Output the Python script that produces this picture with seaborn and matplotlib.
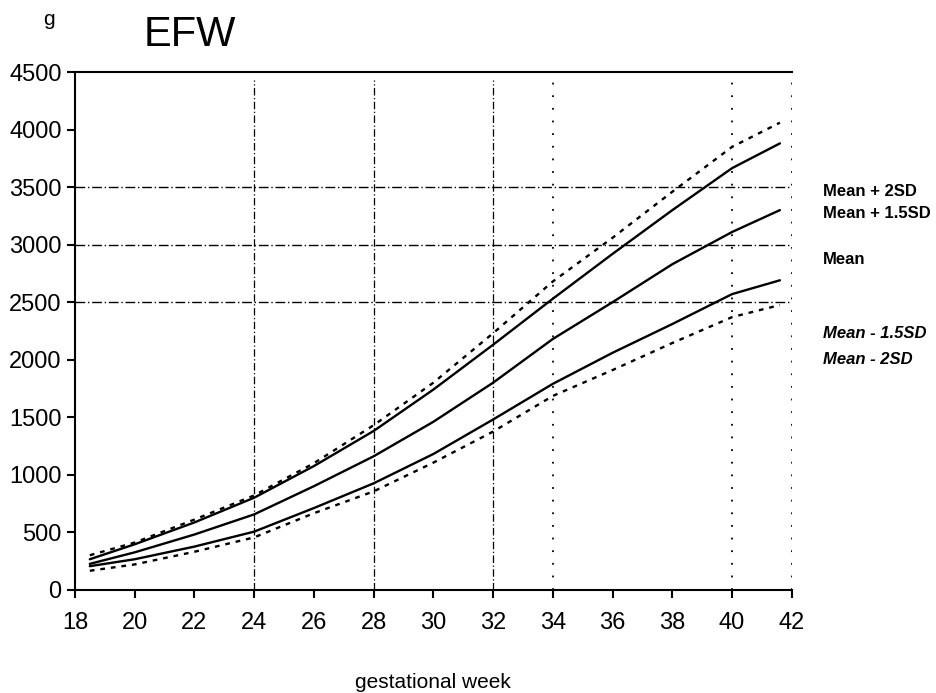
import pandas as pd
import numpy as np
import matplotlib
matplotlib.use("Agg")
import matplotlib.pyplot as plt
import seaborn as sns

# Values (grams)
weeks = [18.5, 20, 22, 24, 26, 28, 30, 32, 34, 36, 38, 40, 41.6]
plus_2sd = [300, 410, 610, 820, 1100, 1430, 1800, 2230, 2680, 3060, 3460, 3850, 4060]
plus_15sd = [265, 395, 585, 800, 1075, 1380, 1740, 2130, 2530, 2920, 3300, 3665, 3880]
mean = [225, 325, 480, 655, 900, 1160, 1460, 1800, 2180, 2500, 2830, 3110, 3300]
minus_15sd = [205, 265, 375, 505, 710, 925, 1180, 1480, 1790, 2060, 2310, 2570, 2690]
minus_2sd = [165, 220, 330, 455, 665, 855, 1105, 1375, 1685, 1910, 2145, 2370, 2475]

curve_names = ["Mean + 2SD", "Mean + 1.5SD", "Mean", "Mean - 1.5SD", "Mean - 2SD"]
curve_values = [plus_2sd, plus_15sd, mean, minus_15sd, minus_2sd]

ref_weights = [2500, 3000, 3500]
ref_weeks_dashdot = [24, 28, 32]
ref_weeks_dotted = [34, 40, 42]

label_y = [3460, 3270, 2870, 2225, 2000]

# long table for seaborn
df = pd.DataFrame({
    "week": np.tile(weeks, len(curve_names)),
    "efw": np.concatenate(curve_values),
    "curve": np.repeat(curve_names, len(weeks)),
})

sns.set_style("ticks")
plt.rcParams["font.family"] = ["Liberation Sans", "DejaVu Sans"]
plt.rcParams["text.color"] = "black"
plt.rcParams["xtick.color"] = "black"
plt.rcParams["ytick.color"] = "black"
plt.rcParams["axes.labelcolor"] = "black"

fig = plt.figure(figsize=(9.36, 6.93), dpi=100)
ax = fig.add_axes([0.080, 0.149, 0.766, 0.747])

dashes = {
    "Mean + 2SD": (2, 2.5),
    "Mean + 1.5SD": "",
    "Mean": "",
    "Mean - 1.5SD": "",
    "Mean - 2SD": (2, 2.5),
}
sns.lineplot(data=df, x="week", y="efw", hue="curve", style="curve",
             palette={c: "black" for c in curve_names}, dashes=dashes,
             linewidth=1.7, legend=False, ax=ax)

# reference lines
for w in ref_weights:
    ax.axhline(w, color="black", lw=1.0, ls=(0, (7, 2, 1, 2)))
for wk in ref_weeks_dashdot:
    ax.axvline(wk, ymax=0.985, color="black", lw=0.9, ls=(0, (6, 2, 1, 2)))
for wk in ref_weeks_dotted:
    ax.axvline(wk, color="black", lw=1.3, ls=(0, (1, 6)))

ax.set_xlim(18, 42)
ax.set_ylim(0, 4500)
ax.set_xticks(range(18, 43, 2))
ax.set_yticks(range(0, 4501, 500))
ax.tick_params(axis="both", labelsize=17, length=6, width=1.5, direction="out",
               colors="black")
ax.tick_params(axis="x", pad=10)
ax.spines["right"].set_visible(False)
for s in ["left", "bottom", "top"]:
    ax.spines[s].set_linewidth(1.5)
    ax.spines[s].set_color("black")

ax.set_xlabel("gestational week", fontsize=15, labelpad=28)
ax.set_ylabel("")

# curve labels on the right
for name, yv in zip(curve_names, label_y):
    style = "italic" if "-" in name else "normal"
    ax.text(43.05, yv, name, fontsize=12, fontweight="bold", fontstyle=style,
            ha="left", va="center", clip_on=False)

fig.text(0.052, 0.972, "g", fontsize=15, ha="center", va="center")
fig.text(0.203, 0.950, "EFW", fontsize=30, ha="center", va="center")

fig.savefig("out.png", dpi=100)
